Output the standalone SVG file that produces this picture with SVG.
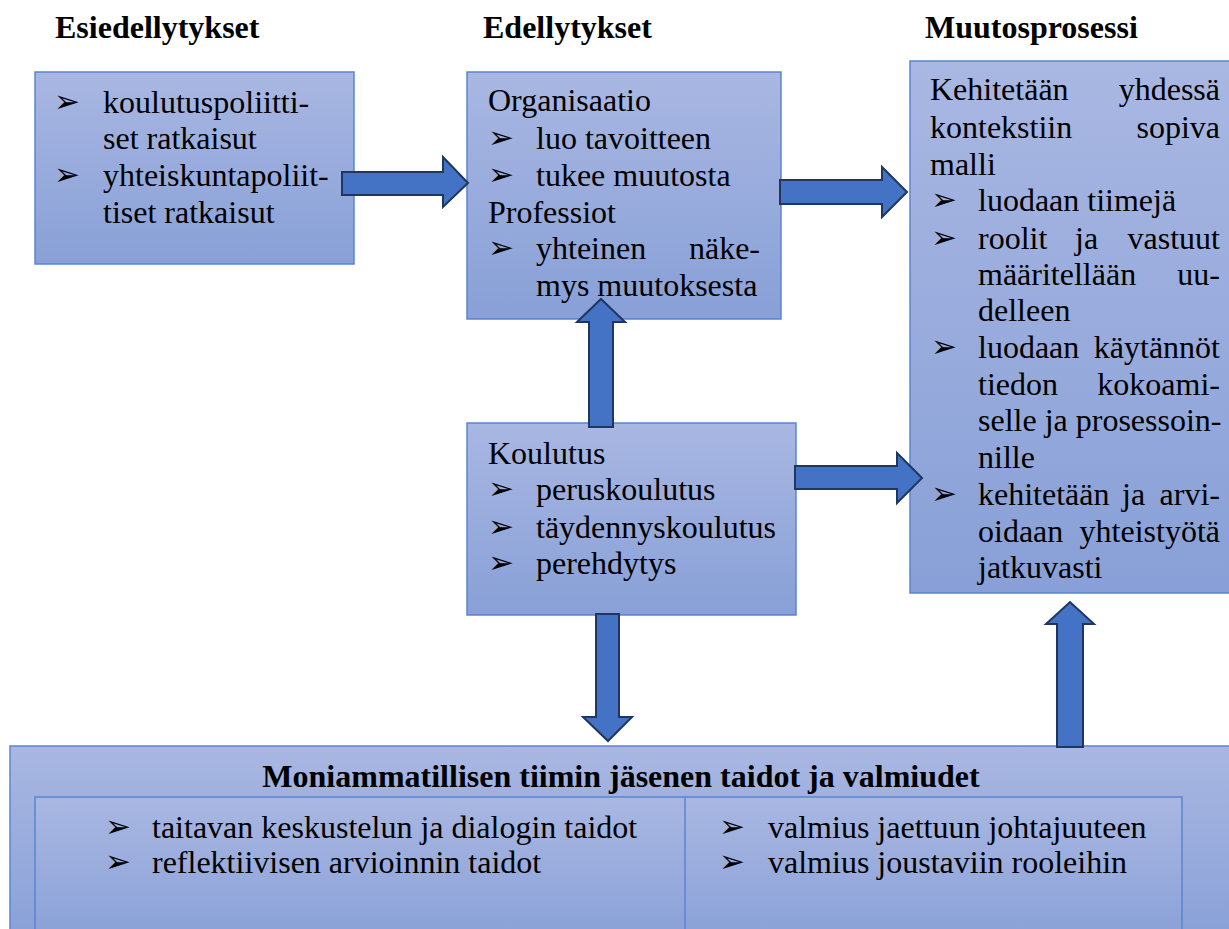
<svg xmlns="http://www.w3.org/2000/svg" width="1229" height="929" viewBox="0 0 1229 929">
<defs>
<linearGradient id="g" x1="0" y1="0" x2="0" y2="1">
<stop offset="0" stop-color="#A9B7E2"/>
<stop offset="1" stop-color="#88A0D7"/>
</linearGradient>
<style>
.box{fill:url(#g);stroke:#5A85D2;stroke-width:1.5}
.t{font-family:'Liberation Serif','DejaVu Serif',serif;font-size:32px;fill:#000}
.h{font-family:'Liberation Serif','DejaVu Serif',serif;font-size:32px;font-weight:bold;fill:#000}
.b{font-family:'DejaVu Sans',sans-serif;font-size:31px;fill:#000}
.e{text-anchor:end}
.m{text-anchor:middle}
.arr{fill:#4472C4;stroke:#1F3660;stroke-width:2;stroke-linejoin:miter}
</style>
</defs>
<rect width="1229" height="929" fill="#fff"/>

<g id="headers">
<text class="h" x="55" y="38">Esiedellytykset</text>
<text class="h" x="483" y="38">Edellytykset</text>
<text class="h" x="925" y="38">Muutosprosessi</text>
</g>

<g id="esiedellytykset">
<rect class="box" x="35" y="72" width="319" height="192"/>
<text class="b" x="54" y="112">➢</text>
<text class="t" x="103" y="113">koulutuspoliitti-</text>
<text class="t" x="103" y="149">set ratkaisut</text>
<text class="b" x="54" y="185">➢</text>
<text class="t" x="103" y="186">yhteiskuntapoliit-</text>
<text class="t" x="103" y="223">tiset ratkaisut</text>
</g>

<g id="edellytykset">
<rect class="box" x="467" y="72" width="314" height="247"/>
<text class="t" x="488" y="111">Organisaatio</text>
<text class="b" x="488" y="148">➢</text>
<text class="t" x="536" y="149">luo tavoitteen</text>
<text class="b" x="488" y="185">➢</text>
<text class="t" x="536" y="186">tukee muutosta</text>
<text class="t" x="488" y="223">Professiot</text>
<text class="b" x="488" y="258">➢</text>
<text class="t" x="536" y="259">yhteinen</text>
<text class="t e" x="760" y="259">näke-</text>
<text class="t" x="536" y="296">mys muutoksesta</text>
</g>

<g id="koulutus">
<rect class="box" x="467" y="423" width="329" height="192"/>
<text class="t" x="488" y="464">Koulutus</text>
<text class="b" x="488" y="499">➢</text>
<text class="t" x="536" y="500">peruskoulutus</text>
<text class="b" x="488" y="537">➢</text>
<text class="t" x="536" y="538">täydennyskoulutus</text>
<text class="b" x="488" y="573">➢</text>
<text class="t" x="536" y="574">perehdytys</text>
</g>

<g id="muutosprosessi">
<rect class="box" x="910" y="61" width="330" height="532"/>
<text class="t" x="930" y="100">Kehitetään</text>
<text class="t e" x="1220" y="100">yhdessä</text>
<text class="t" x="930" y="138">kontekstiin</text>
<text class="t e" x="1220" y="138">sopiva</text>
<text class="t" x="930" y="175">malli</text>
<text class="b" x="931" y="210">➢</text>
<text class="t" x="978" y="211">luodaan tiimejä</text>
<text class="b" x="931" y="248">➢</text>
<text class="t" x="978" y="249">roolit</text>
<text class="t" x="1075" y="249">ja</text>
<text class="t e" x="1220" y="249">vastuut</text>
<text class="t" x="978" y="285">määritellään</text>
<text class="t e" x="1220" y="285">uu-</text>
<text class="t" x="978" y="321">delleen</text>
<text class="b" x="931" y="357">➢</text>
<text class="t" x="978" y="358">luodaan</text>
<text class="t e" x="1220" y="358">käytännöt</text>
<text class="t" x="978" y="395">tiedon</text>
<text class="t e" x="1220" y="395">kokoami-</text>
<text class="t" x="978" y="431">selle ja prosessoin-</text>
<text class="t" x="978" y="468">nille</text>
<text class="b" x="931" y="504">➢</text>
<text class="t" x="978" y="505">kehitetään</text>
<text class="t" x="1122" y="505">ja</text>
<text class="t e" x="1220" y="505">arvi-</text>
<text class="t" x="978" y="542">oidaan</text>
<text class="t e" x="1220" y="542">yhteistyötä</text>
<text class="t" x="978" y="578">jatkuvasti</text>
</g>

<g id="taidot">
<rect class="box" x="10" y="746" width="1240" height="200"/>
<text class="h m" x="621" y="787">Moniammatillisen tiimin jäsenen taidot ja valmiudet</text>
<rect class="box" x="35" y="797" width="1147" height="150"/>
<line x1="685" y1="797" x2="685" y2="929" stroke="#5A85D2" stroke-width="1.5"/>
<text class="b" x="105" y="837">➢</text>
<text class="t" x="152" y="838">taitavan keskustelun ja dialogin taidot</text>
<text class="b" x="105" y="872">➢</text>
<text class="t" x="152" y="873">reflektiivisen arvioinnin taidot</text>
<text class="b" x="719" y="837">➢</text>
<text class="t" x="768" y="838">valmius jaettuun johtajuuteen</text>
<text class="b" x="719" y="872">➢</text>
<text class="t" x="768" y="873">valmius joustaviin rooleihin</text>
</g>

<g id="connectors">
<polygon class="arr" points="342,172 443,172 443,157 468,183 443,207 443,195 342,195"/>
<polygon class="arr" points="780,180 882,180 882,167 907,192 882,217 882,204 780,204"/>
<polygon class="arr" points="795,466 897,466 897,453 922,478 897,503 897,489 795,489"/>
<polygon class="arr" points="589,427 589,322 577,322 601,299 625,322 613,322 613,427"/>
<polygon class="arr" points="596,614 619,614 619,717 632,717 608,741 583,717 596,717"/>
<polygon class="arr" points="1057,747 1057,624 1046,624 1070,602 1094,624 1083,624 1083,747"/>
</g>
</svg>
